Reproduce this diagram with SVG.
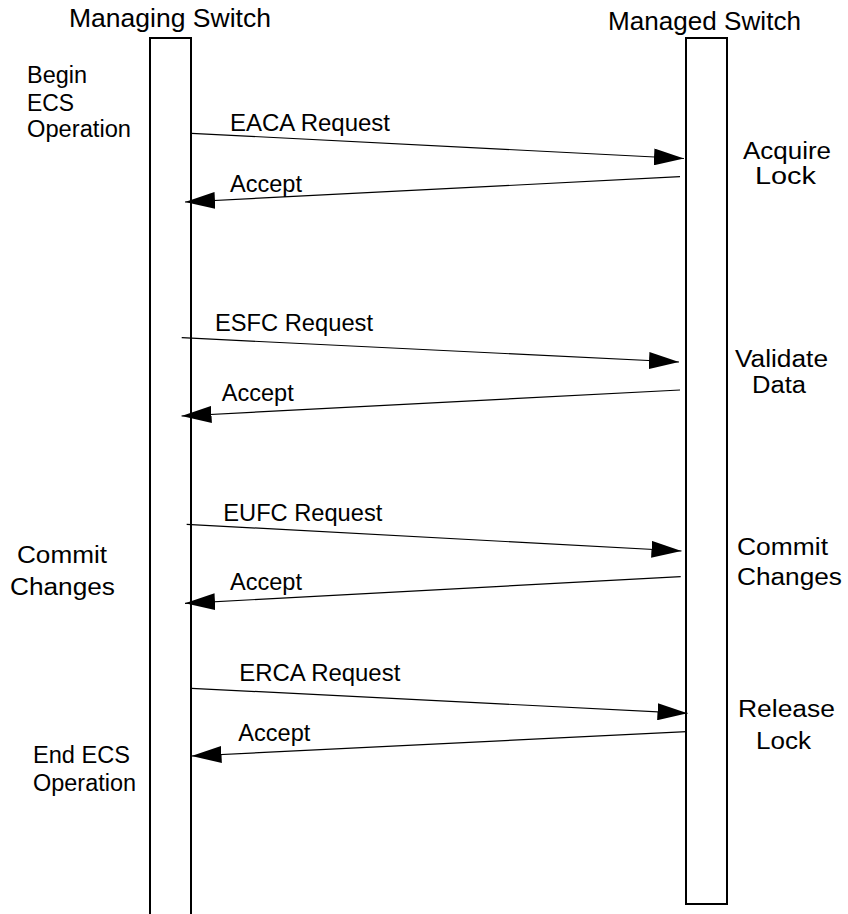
<svg xmlns="http://www.w3.org/2000/svg" width="848" height="914" viewBox="0 0 848 914">
<style>
text{font-family:"Liberation Sans",Arial,sans-serif;fill:#000}
.h{font-size:25px}
.t{font-size:23px}
.life{fill:none;stroke:#000;stroke-width:2}
.msg{stroke:#000;stroke-width:1.2;fill:none;marker-end:url(#ah)}
</style>
<defs>
<marker id="ah" markerUnits="userSpaceOnUse" markerWidth="30" markerHeight="17" refX="30" refY="8.5" orient="auto" viewBox="0 0 30 17">
<path d="M0,0 L30,8.5 L0,17 z" fill="#000"/>
</marker>
</defs>
<rect width="848" height="914" fill="#fff"/>
<g id="managing">
<text class="h" x="69" y="27" textLength="202" lengthAdjust="spacingAndGlyphs">Managing Switch</text>
<path class="life" d="M150,914 V38 H191 V914"/>
</g>
<g id="managed">
<text class="h" x="608" y="30" textLength="193" lengthAdjust="spacingAndGlyphs">Managed Switch</text>
<rect class="life" x="686" y="38" width="41" height="866"/>
</g>
<g id="left-notes">
<text class="t" x="27" y="83" textLength="60" lengthAdjust="spacingAndGlyphs">Begin</text>
<text class="t" x="27" y="110.5" textLength="47" lengthAdjust="spacingAndGlyphs">ECS</text>
<text class="t" x="27" y="137" textLength="104" lengthAdjust="spacingAndGlyphs">Operation</text>
<text class="t" x="17" y="563" textLength="90" lengthAdjust="spacingAndGlyphs">Commit</text>
<text class="t" x="10" y="595" textLength="105" lengthAdjust="spacingAndGlyphs">Changes</text>
<text class="t" x="33" y="763" textLength="97" lengthAdjust="spacingAndGlyphs">End ECS</text>
<text class="t" x="33" y="790.5" textLength="103" lengthAdjust="spacingAndGlyphs">Operation</text>
</g>
<g id="right-notes">
<text class="t" x="743" y="159" textLength="88" lengthAdjust="spacingAndGlyphs">Acquire</text>
<text class="t" x="755" y="184" textLength="61" lengthAdjust="spacingAndGlyphs">Lock</text>
<text class="t" x="735" y="366.5" textLength="93" lengthAdjust="spacingAndGlyphs">Validate</text>
<text class="t" x="752" y="393" textLength="54" lengthAdjust="spacingAndGlyphs">Data</text>
<text class="t" x="737" y="555" textLength="91" lengthAdjust="spacingAndGlyphs">Commit</text>
<text class="t" x="737" y="585" textLength="105" lengthAdjust="spacingAndGlyphs">Changes</text>
<text class="t" x="738" y="716.5" textLength="97" lengthAdjust="spacingAndGlyphs">Release</text>
<text class="t" x="756" y="749" textLength="55" lengthAdjust="spacingAndGlyphs">Lock</text>
</g>
<g id="connectors">
<line class="msg" x1="191.5" y1="133.3" x2="684" y2="158.5"/>
<line class="msg" x1="680" y1="176.7" x2="185" y2="202"/>
<line class="msg" x1="181.7" y1="337.7" x2="679" y2="362"/>
<line class="msg" x1="680" y1="390" x2="181.5" y2="416"/>
<line class="msg" x1="186.7" y1="524.3" x2="681.5" y2="551"/>
<line class="msg" x1="680.7" y1="576.7" x2="185" y2="603.3"/>
<line class="msg" x1="191.5" y1="688.3" x2="687.5" y2="713.3"/>
<line class="msg" x1="686.7" y1="731.7" x2="191.5" y2="756"/>
</g>
<g id="labels">
<text class="t" x="230" y="131" textLength="160" lengthAdjust="spacingAndGlyphs">EACA Request</text>
<text class="t" x="230" y="192.3" textLength="72" lengthAdjust="spacingAndGlyphs">Accept</text>
<text class="t" x="215" y="331" textLength="158" lengthAdjust="spacingAndGlyphs">ESFC Request</text>
<text class="t" x="221.7" y="400.7" textLength="72" lengthAdjust="spacingAndGlyphs">Accept</text>
<text class="t" x="223.3" y="520.7" textLength="159" lengthAdjust="spacingAndGlyphs">EUFC Request</text>
<text class="t" x="230" y="590" textLength="72" lengthAdjust="spacingAndGlyphs">Accept</text>
<text class="t" x="239.3" y="680.7" textLength="161" lengthAdjust="spacingAndGlyphs">ERCA Request</text>
<text class="t" x="238.3" y="740.7" textLength="72" lengthAdjust="spacingAndGlyphs">Accept</text>
</g>
</svg>
